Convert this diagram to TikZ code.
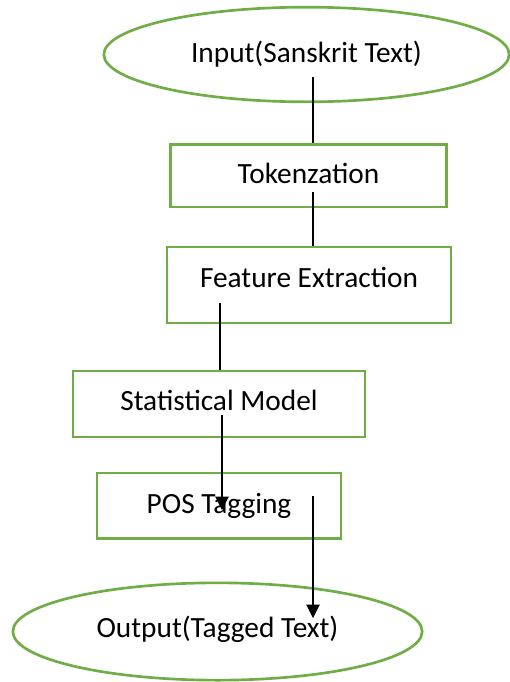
\documentclass[tikz,border=0pt]{standalone}
\usepackage{fontspec}
\setmainfont{Carlito}
\usetikzlibrary{shapes.geometric,arrows.meta}
\definecolor{boxgreen}{HTML}{70AD47}
\tikzset{
  stepbox/.style={draw=boxgreen, line width=2pt, rectangle, inner sep=0pt, font=\fontsize{22}{26}\selectfont},
  endell/.style={draw=boxgreen, line width=2pt, ellipse, inner sep=0pt, font=\fontsize{22}{26}\selectfont},
  baseoff/.style={text height=#1, text depth=0pt},
  link/.style={draw=black, line width=0.8pt},
  arrowlink/.style={link, -{Triangle[length=10pt,width=10pt]}}
}
\begin{document}
\begin{tikzpicture}[x=0.75pt,y=-0.75pt]
\useasboundingbox (0,0) rectangle (510,682);
\node[endell, baseoff=11.25pt, minimum width=304pt, minimum height=71pt] (in) at (306.5,54.5) {Input(Sanskrit Text)};
\node[stepbox, baseoff=11.25pt, minimum width=207pt, minimum height=47pt] (tok) at (308.5,175.5) {Tokenzation};
\node[stepbox, baseoff=3pt, minimum width=213pt, minimum height=57pt] (feat) at (309,285) {Feature Extraction};
\node[stepbox, baseoff=9pt, minimum width=219pt, minimum height=49.5pt] (stat) at (219,404) {Statistical Model};
\node[stepbox, baseoff=11.25pt, minimum width=183pt, minimum height=49pt] (pos) at (219,505.5) {POS Tagging};
\node[endell, baseoff=8.25pt, minimum width=307pt, minimum height=73pt] (out) at (217.5,631.5) {Output(Tagged Text)};
\coordinate (s1) at (313,77);
\coordinate (s2) at (313,192);
\coordinate (s3) at (220,303);
\coordinate (s4) at (222,415);
\coordinate (e4) at (222,510);
\coordinate (s5) at (313,496);
\coordinate (e5) at (313,618);
\draw[link] (s1) -- (tok.north -| s1);
\draw[link] (s2) -- (feat.north -| s2);
\draw[link] (s3) -- (stat.north -| s3);
\draw[arrowlink] (s4) -- (e4);
\draw[arrowlink] (s5) -- (e5);
\end{tikzpicture}
\end{document}
